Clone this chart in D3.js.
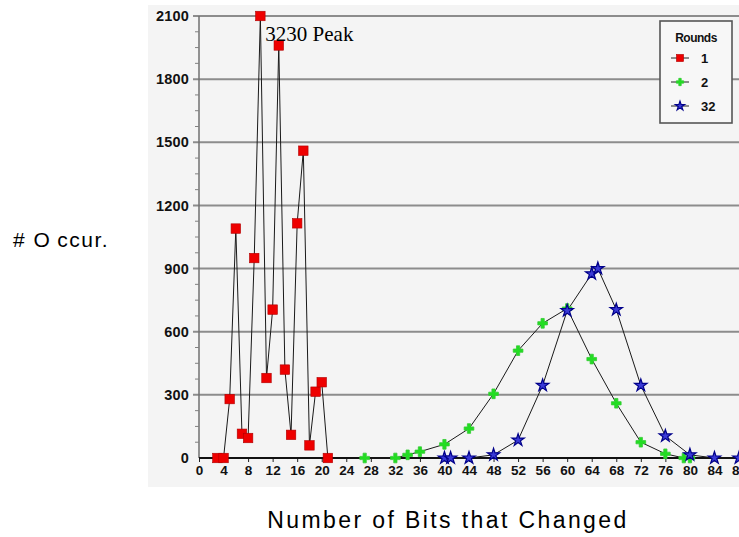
<!DOCTYPE html>
<html>
<head>
<meta charset="utf-8">
<script src="https://cdn.jsdelivr.net/npm/d3@7"></script>
<style>
  html, body { margin: 0; padding: 0; background: #ffffff; }
  svg { display: block; }
</style>
</head>
<body>
<svg id="chart" width="739" height="537"></svg>
<script>
// Bits changed vs. number of occurrences, for 1, 2 and 32 rounds
const roundsOneBits   = [3, 4, 5, 6, 7, 8, 9, 10, 11, 12, 13, 14, 15, 16, 17, 18, 19, 20, 21];
const roundsOneCount  = [0, 0, 280, 1090, 115, 95, 950, 3230, 380, 705, 1960, 420, 110, 1115, 1460, 60, 315, 360, 0];

const roundsTwoBits   = [27, 32, 34, 36, 40, 44, 48, 52, 56, 60, 64, 68, 72, 76, 79, 80];
const roundsTwoCount  = [0, 0, 15, 30, 65, 140, 305, 510, 640, 710, 470, 260, 75, 20, 0, 0];

const rounds32Bits    = [40, 41, 44, 48, 52, 56, 60, 64, 65, 68, 72, 76, 80, 84, 88];
const rounds32Count   = [0, 0, 0, 15, 85, 345, 700, 875, 900, 705, 345, 105, 15, 0, 0];

const xTickValues = [0, 4, 8, 12, 16, 20, 24, 28, 32, 36, 40, 44, 48, 52, 56, 60, 64, 68, 72, 76, 80, 84, 88];
const yTickValues = [0, 300, 600, 900, 1200, 1500, 1800, 2100];
const yMinorTicks = [75, 150, 225, 375, 450, 525, 675, 750, 825, 975, 1050, 1125, 1275, 1350, 1425, 1575, 1650, 1725, 1875, 1950, 2025];

const legendTitle = "Rounds";
const seriesNames = ["1", "2", "32"];
const peakLabel = "3230 Peak";

const svg = d3.select("#chart");

const x = d3.scaleLinear().domain([0, 88]).range([199, 739]);
const y = d3.scaleLinear().domain([0, 2100]).range([458, 16]).clamp(true);

// panel background
svg.append("rect")
  .attr("x", 148).attr("y", 5)
  .attr("width", 591).attr("height", 482)
  .attr("fill", "#f4f4f4");

// horizontal gridlines (extend slightly left of the axis as major ticks)
svg.append("g")
  .selectAll("line")
  .data(yTickValues.filter(v => v > 0))
  .join("line")
  .attr("x1", 193).attr("x2", 739)
  .attr("y1", d => y(d)).attr("y2", d => y(d))
  .attr("stroke", "#8c8c8c")
  .attr("stroke-width", 2);

// y axis
const yAxis = d3.axisLeft(y).tickValues(yTickValues).tickSize(0).tickPadding(10).tickFormat(d3.format("d"));
const gy = svg.append("g").attr("transform", "translate(199,0)").call(yAxis);
gy.select(".domain").remove();
gy.selectAll("text")
  .attr("font-family", "Liberation Sans, Arial, sans-serif")
  .attr("font-weight", "bold")
  .attr("font-size", 14.5)
  .attr("letter-spacing", 0.2)
  .attr("fill", "#111");

svg.append("line")
  .attr("x1", 199).attr("x2", 199)
  .attr("y1", y(2100)).attr("y2", y(0))
  .attr("stroke", "#707070").attr("stroke-width", 1.5);

svg.append("g")
  .selectAll("line")
  .data(yMinorTicks)
  .join("line")
  .attr("x1", 195).attr("x2", 199)
  .attr("y1", d => y(d)).attr("y2", d => y(d))
  .attr("stroke", "#808080").attr("stroke-width", 1);

// x axis
const xAxis = d3.axisBottom(x).tickValues(xTickValues).tickSize(4).tickPadding(3).tickFormat(d3.format("d"));
const gx = svg.append("g").attr("transform", `translate(0,${y(0)})`).call(xAxis);
gx.select(".domain").remove();
gx.selectAll(".tick line").attr("stroke", "#222").attr("stroke-width", 1);
gx.selectAll("text")
  .attr("font-family", "Liberation Sans, Arial, sans-serif")
  .attr("font-weight", "bold")
  .attr("font-size", 13.5)
  .attr("fill", "#111");

svg.append("line")
  .attr("x1", 199).attr("x2", 739)
  .attr("y1", y(0)).attr("y2", y(0))
  .attr("stroke", "#111").attr("stroke-width", 2);

// series
const series = [
  { name: seriesNames[0], bits: roundsOneBits, counts: roundsOneCount, kind: "square" },
  { name: seriesNames[1], bits: roundsTwoBits, counts: roundsTwoCount, kind: "cross" },
  { name: seriesNames[2], bits: rounds32Bits,  counts: rounds32Count,  kind: "star" }
];

const line = d3.line().x(d => x(d[0])).y(d => y(d[1]));

series.forEach(s => {
  const pts = s.bits.map((b, i) => [b, s.counts[i]]);
  svg.append("path")
    .attr("d", line(pts))
    .attr("fill", "none")
    .attr("stroke", "#1a1a1a")
    .attr("stroke-width", 1);
});

function drawMarker(g, kind, cx, cy, scale) {
  const k = scale || 1;
  if (kind === "square") {
    const s = 9.5 * k;
    g.append("rect")
      .attr("x", cx - s / 2).attr("y", cy - s / 2)
      .attr("width", s).attr("height", s)
      .attr("fill", "#ee0000").attr("stroke", "#b00000").attr("stroke-width", 0.6);
  } else if (kind === "cross") {
    g.append("path")
      .attr("d", d3.symbol(d3.symbolCross, 52 * k * k)())
      .attr("transform", `translate(${cx},${cy}) rotate(0)`)
      .attr("fill", "#22dd22").attr("stroke", "#33cc33").attr("stroke-width", 0.8)
      .attr("stroke-linejoin", "round");
  } else {
    g.append("path")
      .attr("d", d3.symbol(d3.symbolStar, 48 * k * k)())
      .attr("transform", `translate(${cx},${cy})`)
      .attr("fill", "#3a3ad6").attr("stroke", "#00008a").attr("stroke-width", 1.2);
  }
}

series.forEach(s => {
  const g = svg.append("g");
  s.bits.forEach((b, i) => drawMarker(g, s.kind, x(b), y(s.counts[i])));
});

// off-scale peak annotation for the single-round series
const peakIndex = roundsOneCount.indexOf(d3.max(roundsOneCount));
svg.append("text")
  .attr("x", x(roundsOneBits[peakIndex]) + 5)
  .attr("y", y(roundsOneCount[peakIndex]) + 25)
  .attr("font-family", "Liberation Serif, Times New Roman, serif")
  .attr("font-size", 21)
  .attr("fill", "#000")
  .text(peakLabel);

// legend
const lg = svg.append("g");
lg.append("rect")
  .attr("x", 660).attr("y", 21)
  .attr("width", 72).attr("height", 102)
  .attr("fill", "#f7f7f7")
  .attr("stroke", "#555").attr("stroke-width", 1.6);
lg.append("text")
  .attr("x", 696).attr("y", 42)
  .attr("text-anchor", "middle")
  .attr("font-family", "Liberation Sans, Arial, sans-serif")
  .attr("font-weight", "bold")
  .attr("font-size", 12)
  .attr("letter-spacing", -0.5)
  .attr("fill", "#111")
  .text(legendTitle);
series.forEach((s, i) => {
  const cy = 58 + i * 24;
  lg.append("line")
    .attr("x1", 671).attr("x2", 689)
    .attr("y1", cy).attr("y2", cy)
    .attr("stroke", "#222").attr("stroke-width", 1);
  drawMarker(lg, s.kind, 680, cy, 0.75);
  lg.append("text")
    .attr("x", 701).attr("y", cy + 5)
    .attr("font-family", "Liberation Sans, Arial, sans-serif")
    .attr("font-weight", "bold")
    .attr("font-size", 13)
    .attr("fill", "#111")
    .text(s.name);
});

// axis titles
const yTitle = svg.append("text")
  .attr("x", 13).attr("y", 247)
  .attr("font-family", "Liberation Sans, Arial, sans-serif")
  .attr("font-size", 21)
  .attr("letter-spacing", 1.5)
  .attr("fill", "#000");
yTitle.append("tspan").text("# O");
yTitle.append("tspan").attr("dx", 6).text("ccur.");

svg.append("text")
  .attr("x", 448).attr("y", 528)
  .attr("text-anchor", "middle")
  .attr("font-family", "Liberation Sans, Arial, sans-serif")
  .attr("font-size", 23)
  .attr("letter-spacing", 2.4)
  .attr("fill", "#000")
  .text("Number of Bits that Changed");
</script>
</body>
</html>
